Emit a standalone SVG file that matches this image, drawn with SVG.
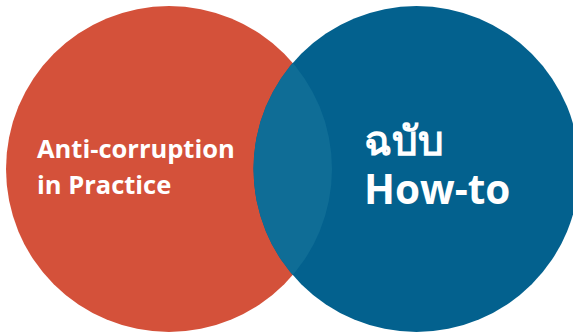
<svg xmlns="http://www.w3.org/2000/svg" width="573" height="332" viewBox="0 0 573 332">
  <style>
    .lbl { fill: #ffffff; font-family: "Open Sans", "Noto Sans", "DejaVu Sans", sans-serif; font-weight: 700; }
  </style>
  <defs>
    <clipPath id="clipLeft">
      <circle cx="169" cy="169" r="163"/>
    </clipPath>
  </defs>
  <rect width="573" height="332" fill="#ffffff"/>
  <g id="left-circle">
    <circle cx="169" cy="169" r="163" fill="#d4513a"/>
  </g>
  <g id="right-circle">
    <circle cx="416.5" cy="169" r="163" fill="#03618e"/>
  </g>
  <g id="overlap">
    <circle cx="416.5" cy="169" r="163" fill="#0f6d96" clip-path="url(#clipLeft)"/>
  </g>
  <g id="left-label">
    <text class="lbl" font-size="25.5"><tspan x="37" y="158">Anti-corruption</tspan><tspan x="37" y="194">in Practice</tspan></text>
  </g>
  <g id="right-label">
    <text class="lbl" font-size="40.5" font-weight="600"><tspan x="364" y="155">ฉบับ</tspan><tspan x="364" y="204">How-to</tspan></text>
  </g>
</svg>
